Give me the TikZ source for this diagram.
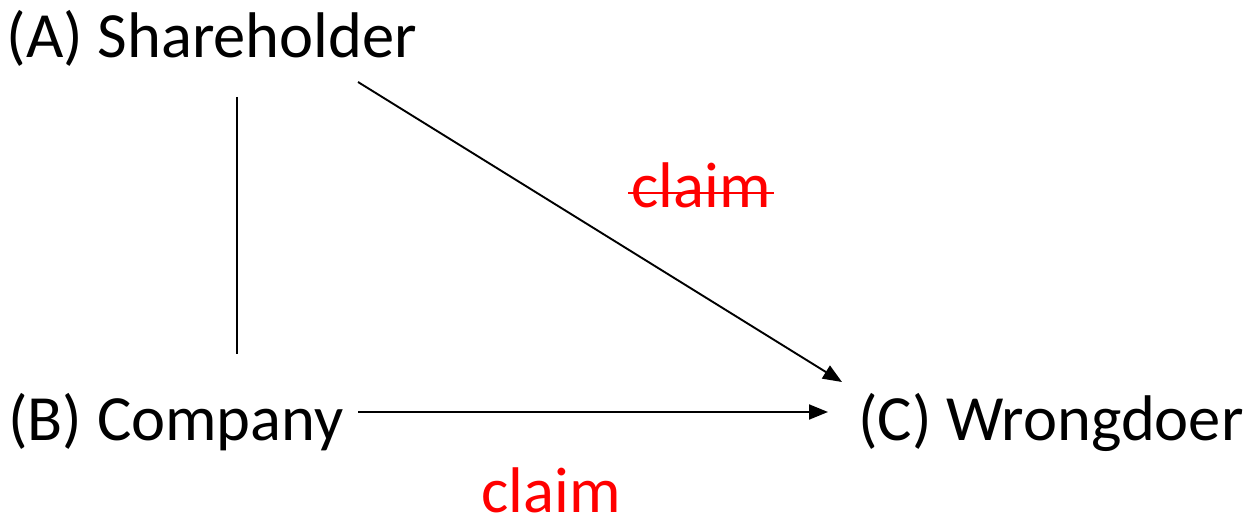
\documentclass[tikz,border=0pt]{standalone}
\usepackage{fontspec}
\setmainfont{Carlito}
\usetikzlibrary{arrows.meta}
\begin{document}
\begin{tikzpicture}[x=1pt,y=-1pt,
  lbl/.style={inner sep=0pt,font=\fontsize{64.5}{70}\selectfont},
  redlbl/.style={lbl,text=red},
  conn/.style={line width=1.9pt},
  arr/.style={conn,-{Triangle[length=19pt,width=15pt]}}]
\useasboundingbox (0,0) rectangle (1251,521);
\node[lbl,anchor=base] (A) at (212,58) {(A) Shareholder};
\node[lbl,anchor=base] (B) at (176,440) {(B) Company};
\node[lbl,anchor=base] (C) at (1051,440) {(C) Wrongdoer};
\node[redlbl,anchor=base] (c1) at (701,208) {claim};
\node[redlbl,anchor=base] (c2) at (551,512) {claim};
\coordinate (a1) at (237,97);
\coordinate (b1) at (237,354);
\coordinate (a2) at (358,82);
\coordinate (c3) at (842,382);
\coordinate (b2) at (358,412);
\coordinate (c4) at (828,412);
\draw[conn] (a1) -- (b1);
\draw[arr] (a2) -- (c3);
\draw[arr] (b2) -- (c4);
\draw[red,line width=2.8pt] ([yshift=15pt,xshift=-3pt]c1.base west) -- ([yshift=15pt,xshift=3pt]c1.base east);
\end{tikzpicture}
\end{document}
